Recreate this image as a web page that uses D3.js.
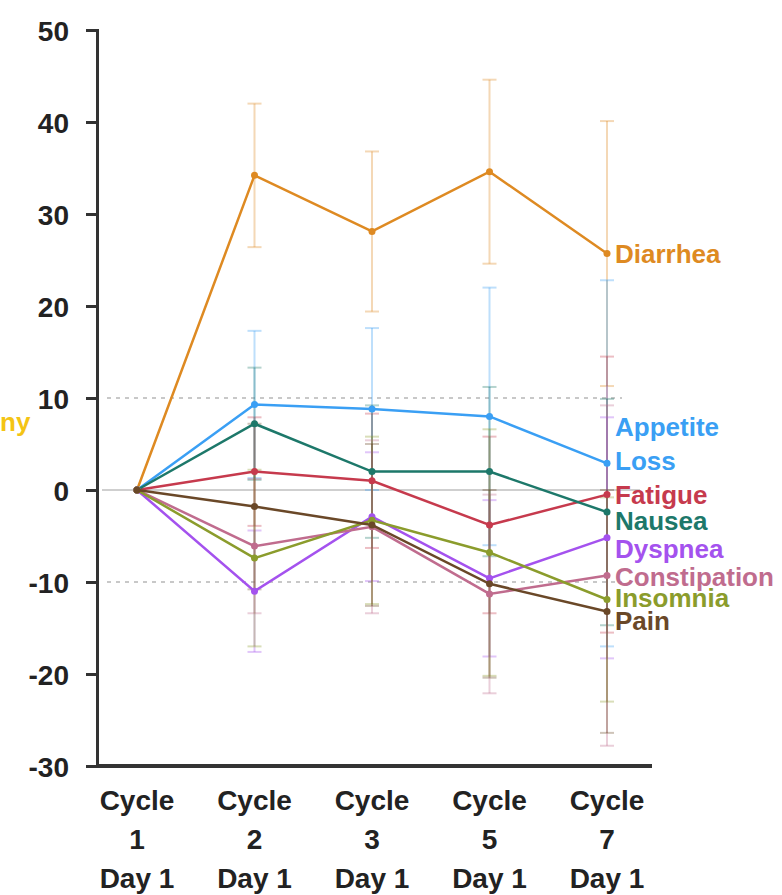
<!DOCTYPE html>
<html lang="en">
<head>
<meta charset="UTF-8">
<title>Symptom change by cycle</title>
<style>
  body { margin:0; background:#fff; }
  svg { display:block; font-family: "Liberation Sans", Arial, sans-serif; }
  .tick-label { font-size:28px; font-weight:bold; fill:#222; }
  .series-label { font-size:26px; font-weight:bold; }
</style>
</head>
<body>
<svg id="CHART" width="782" height="895"></svg>
<script src="https://cdnjs.cloudflare.com/ajax/libs/d3/7.8.5/d3.min.js"></script>
<script>
// data
const cycles = ["Cycle 1 Day 1", "Cycle 2 Day 1", "Cycle 3 Day 1", "Cycle 5 Day 1", "Cycle 7 Day 1"];
const seriesNames = ["Diarrhea", "Appetite Loss", "Fatigue", "Nausea", "Dyspnea", "Constipation", "Insomnia", "Pain"];

const diarrhea     = [0, 34.2, 28.1, 34.6, 25.7];
const appetiteLoss = [0, 9.3, 8.8, 8.0, 2.9];
const fatigue      = [0, 2.0, 1.0, -3.8, -0.5];
const nausea       = [0, 7.2, 2.0, 2.0, -2.4];
const dyspnea      = [0, -11.0, -2.9, -9.6, -5.2];
const constipation = [0, -6.1, -4.0, -11.3, -9.3];
const insomnia     = [0, -7.4, -3.3, -6.8, -11.9];
const pain         = [0, -1.8, -3.8, -10.2, -13.2];

// half-width of the error bars
const diarrheaErr     = [0, 7.8, 8.7, 10.0, 14.4];
const appetiteLossErr = [0, 8.0, 8.8, 14.0, 19.9];
const fatigueErr      = [0, 5.9, 7.3, 9.6, 15.0];
const nauseaErr       = [0, 6.1, 7.2, 9.2, 12.3];
const dyspneaErr      = [0, 6.6, 7.0, 8.5, 13.1];
const constipationErr = [0, 7.3, 9.4, 10.8, 18.5];
const insomniaErr     = [0, 9.6, 9.1, 13.4, 11.1];
const painErr         = [0, 9.0, 8.8, 10.2, 13.2];

const yTicks = [-30, -20, -10, 0, 10, 20, 30, 40, 50];

const colors = ["#de8a22", "#3a9ff4", "#c63a4d", "#1d786a", "#a452ee", "#c06c8e", "#8b9c2c", "#6a4828"];

const values = [diarrhea, appetiteLoss, fatigue, nausea, dyspnea, constipation, insomnia, pain];
const errors = [diarrheaErr, appetiteLossErr, fatigueErr, nauseaErr, dyspneaErr, constipationErr, insomniaErr, painErr];

// label nudges (px) so end labels don't pile on each other
const labelDy = [0, -2, 0, 9, 11, 1, -2, 9];

const svg = d3.select("#CHART");

const x = d3.scalePoint().domain(cycles).range([137, 607]);
const y = d3.scaleLinear().domain([-30, 50]).range([766, 30]);

// reference lines
svg.append("line")
   .attr("x1", 102).attr("x2", 640)
   .attr("y1", y(0)).attr("y2", y(0))
   .attr("stroke", "#cfcfcf").attr("stroke-width", 2);

svg.selectAll(".ref")
   .data([10, -10])
   .join("line")
     .attr("x1", 107).attr("x2", 622)
     .attr("y1", d => y(d)).attr("y2", d => y(d))
     .attr("stroke", "#c8c8c8").attr("stroke-width", 2)
     .attr("stroke-dasharray", "4,5");

// y axis
const yAxis = svg.append("g")
   .attr("transform", "translate(97,0)")
   .call(d3.axisLeft(y).tickValues(yTicks).tickFormat(d => String(d))
           .tickSize(11).tickSizeOuter(11).tickPadding(17));
yAxis.select(".domain").attr("stroke", "#333").attr("stroke-width", 3);
yAxis.selectAll(".tick line").attr("stroke", "#333").attr("stroke-width", 3);
yAxis.selectAll(".tick text").attr("class", "tick-label").attr("font-size", null).attr("font-family", null).attr("dy", "0.36em");

// x axis
svg.append("line")
   .attr("x1", 96).attr("x2", 652)
   .attr("y1", y(-30)).attr("y2", y(-30))
   .attr("stroke", "#333").attr("stroke-width", 4);

const xLab = svg.append("g").selectAll("text")
   .data(cycles)
   .join("text")
     .attr("class", "tick-label")
     .attr("text-anchor", "middle")
     .attr("x", d => x(d));
xLab.each(function(d){
  const parts = d.split(" ");
  const lines = [parts[0], parts[1], parts[2] + " " + parts[3]];
  d3.select(this).selectAll("tspan")
    .data(lines)
    .join("tspan")
      .attr("x", x(d))
      .attr("y", (t, i) => 810 + i * 39)
      .text(t => t);
});

// error bars
values.forEach((vals, s) => {
  const g = svg.append("g")
     .attr("stroke", colors[s])
     .attr("stroke-opacity", 0.33)
     .attr("stroke-width", 2);
  const bars = cycles.map((c, i) => ({ c: c, v: vals[i], e: errors[s][i] })).filter(d => d.e > 0);
  g.selectAll(".v").data(bars).join("line")
     .attr("x1", d => x(d.c)).attr("x2", d => x(d.c))
     .attr("y1", d => y(d.v + d.e)).attr("y2", d => y(d.v - d.e));
  g.selectAll(".hi").data(bars).join("line")
     .attr("x1", d => x(d.c) - 7).attr("x2", d => x(d.c) + 7)
     .attr("y1", d => y(d.v + d.e)).attr("y2", d => y(d.v + d.e));
  g.selectAll(".lo").data(bars).join("line")
     .attr("x1", d => x(d.c) - 7).attr("x2", d => x(d.c) + 7)
     .attr("y1", d => y(d.v - d.e)).attr("y2", d => y(d.v - d.e));
});

// lines and points
const line = d3.line().x((d, i) => x(cycles[i])).y(d => y(d));
values.forEach((vals, s) => {
  svg.append("path")
     .datum(vals)
     .attr("fill", "none")
     .attr("stroke", colors[s])
     .attr("stroke-width", 2.5)
     .attr("d", line);
  svg.append("g").selectAll("circle")
     .data(vals)
     .join("circle")
       .attr("cx", (d, i) => x(cycles[i]))
       .attr("cy", d => y(d))
       .attr("r", 3.5)
       .attr("fill", colors[s]);
});

// end labels
const labelX = x(cycles[cycles.length - 1]) + 8;
seriesNames.forEach((name, s) => {
  const last = values[s][values[s].length - 1];
  const t = svg.append("text")
     .attr("class", "series-label")
     .attr("fill", colors[s])
     .attr("x", labelX)
     .attr("y", y(last) + labelDy[s])
     .attr("dy", "0.36em");
  if (name === "Appetite Loss") {
    t.append("tspan").attr("x", labelX).attr("dy", "-0.98em").text("Appetite");
    t.append("tspan").attr("x", labelX).attr("dy", "1.3em").text("Loss");
  } else {
    t.text(name);
  }
});

// clipped label at the left edge
svg.append("text")
   .attr("class", "series-label")
   .attr("fill", "#f4c414")
   .attr("font-size", 19)
   .attr("x", 0)
   .attr("y", y(7.4))
   .attr("dy", "0.36em")
   .text("ny");
</script>
</body>
</html>
